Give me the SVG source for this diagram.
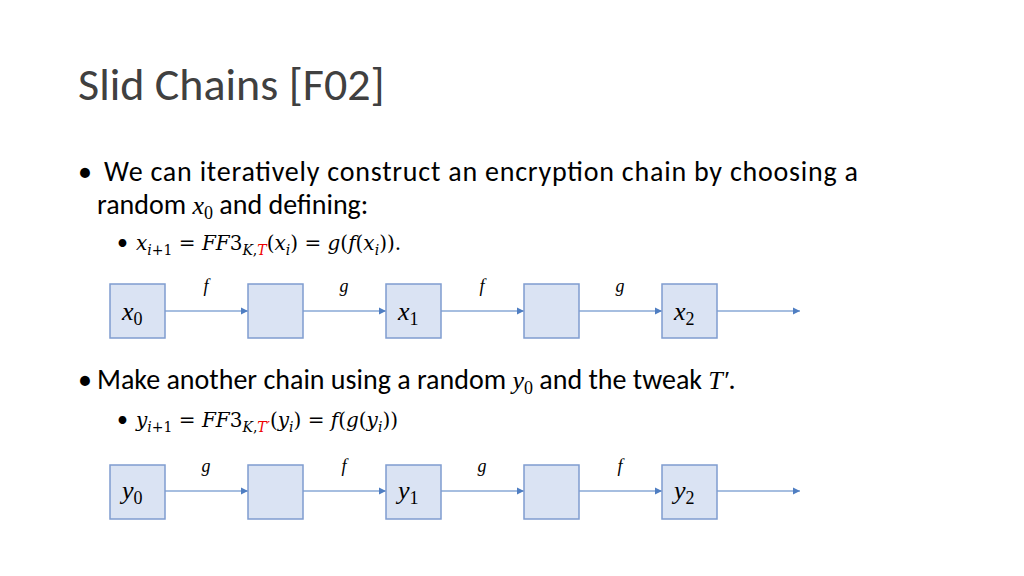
<svg xmlns="http://www.w3.org/2000/svg" width="1024" height="576" viewBox="0 0 1024 576">
<style>
.t{font-family:Carlito,Calibri,"Liberation Sans",sans-serif;fill:#000}
.m{font-family:"Liberation Serif",serif;font-style:italic;fill:#000}
.e{font-family:"DejaVu Serif",serif;font-style:italic;fill:#000}
.u{font-style:normal}
.b{fill:#dae3f3;stroke:#7f9ccf;stroke-width:1.5}
.c{stroke:#4f7ec2;stroke-width:1.2;fill:none;marker-end:url(#a)}
</style>
<defs><marker id="a" markerWidth="8" markerHeight="8" refX="7" refY="4" orient="auto" markerUnits="userSpaceOnUse"><path d="M0,0.5 L7,4 L0,7.5z" fill="#4f7ec2"/></marker></defs>
<rect width="1024" height="576" fill="#fff"/>
<text class="t" x="78" y="100" font-size="46" style="fill:#404040">Slid Chains [F02]</text>
<text class="t" x="78" y="181" font-size="28">•</text>
<text class="t" x="104" y="181" font-size="28" textLength="754" lengthAdjust="spacing">We can iteratively construct an encryption chain by choosing a</text>
<text class="t" x="97" y="214" font-size="28">random <tspan class="m" font-size="26">x</tspan><tspan class="m u" font-size="18" dy="5">0</tspan><tspan dy="-5"> and defining:</tspan></text>
<text class="t" x="117" y="250" font-size="22">•</text>
<text class="e" x="136" y="250" font-size="20">x<tspan font-size="14" dy="5">i</tspan><tspan class="u" font-size="14">+1</tspan><tspan dy="-5" class="u"> = </tspan>FF<tspan class="u">3</tspan><tspan font-size="14" dy="5">K</tspan><tspan class="u" font-size="14">,</tspan><tspan font-size="14" style="fill:#e00">T</tspan><tspan class="u" dy="-5">(</tspan>x<tspan font-size="14" dy="5">i</tspan><tspan class="u" dy="-5">) = </tspan>g<tspan class="u">(</tspan>f<tspan class="u">(</tspan>x<tspan font-size="14" dy="5">i</tspan><tspan class="u" dy="-5">)).</tspan></text>
<text class="t" x="78" y="389" font-size="28">•</text>
<text class="t" x="97" y="389" font-size="28">Make another chain using a random <tspan class="m" font-size="26">y</tspan><tspan class="m u" font-size="18" dy="5">0</tspan><tspan dy="-5"> and the tweak </tspan><tspan class="m" font-size="26">T′</tspan>.</text>
<text class="t" x="117" y="427" font-size="22">•</text>
<text class="e" x="136" y="427" font-size="20">y<tspan font-size="14" dy="5">i</tspan><tspan class="u" font-size="14">+1</tspan><tspan dy="-5" class="u"> = </tspan>FF<tspan class="u">3</tspan><tspan font-size="14" dy="5">K</tspan><tspan class="u" font-size="14">,</tspan><tspan font-size="14" style="fill:#e00">T′</tspan><tspan class="u" dy="-5">(</tspan>y<tspan font-size="14" dy="5">i</tspan><tspan class="u" dy="-5">) = </tspan>f<tspan class="u">(</tspan>g<tspan class="u">(</tspan>y<tspan font-size="14" dy="5">i</tspan><tspan class="u" dy="-5">))</tspan></text>
<g id="connectors">
<path class="c" d="M165,311H248"/><path class="c" d="M303,311H386"/><path class="c" d="M441,311H524"/><path class="c" d="M579,311H662"/><path class="c" d="M717,311H800"/>
<path class="c" d="M165,491H248"/><path class="c" d="M303,491H386"/><path class="c" d="M441,491H524"/><path class="c" d="M579,491H662"/><path class="c" d="M717,491H800"/>
<g class="m" font-size="18" text-anchor="middle">
<text x="206" y="292">f</text><text x="344" y="292">g</text><text x="482" y="292">f</text><text x="620" y="292">g</text>
<text x="206" y="472">g</text><text x="344" y="472">f</text><text x="482" y="472">g</text><text x="620" y="472">f</text>
</g>
</g>
<g id="x0"><rect class="b" x="110" y="284" width="55" height="54"/><text class="m" x="122" y="320" font-size="26">x<tspan class="u" font-size="18" dy="5">0</tspan></text></g>
<g id="xa"><rect class="b" x="248" y="284" width="55" height="54"/></g>
<g id="x1"><rect class="b" x="386" y="284" width="55" height="54"/><text class="m" x="398" y="320" font-size="26">x<tspan class="u" font-size="18" dy="5">1</tspan></text></g>
<g id="xb"><rect class="b" x="524" y="284" width="55" height="54"/></g>
<g id="x2"><rect class="b" x="662" y="284" width="55" height="54"/><text class="m" x="674" y="320" font-size="26">x<tspan class="u" font-size="18" dy="5">2</tspan></text></g>
<g id="y0"><rect class="b" x="110" y="465" width="55" height="54"/><text class="m" x="122" y="499" font-size="26">y<tspan class="u" font-size="18" dy="5">0</tspan></text></g>
<g id="ya"><rect class="b" x="248" y="465" width="55" height="54"/></g>
<g id="y1"><rect class="b" x="386" y="465" width="55" height="54"/><text class="m" x="398" y="499" font-size="26">y<tspan class="u" font-size="18" dy="5">1</tspan></text></g>
<g id="yb"><rect class="b" x="524" y="465" width="55" height="54"/></g>
<g id="y2"><rect class="b" x="662" y="465" width="55" height="54"/><text class="m" x="674" y="499" font-size="26">y<tspan class="u" font-size="18" dy="5">2</tspan></text></g>
</svg>
